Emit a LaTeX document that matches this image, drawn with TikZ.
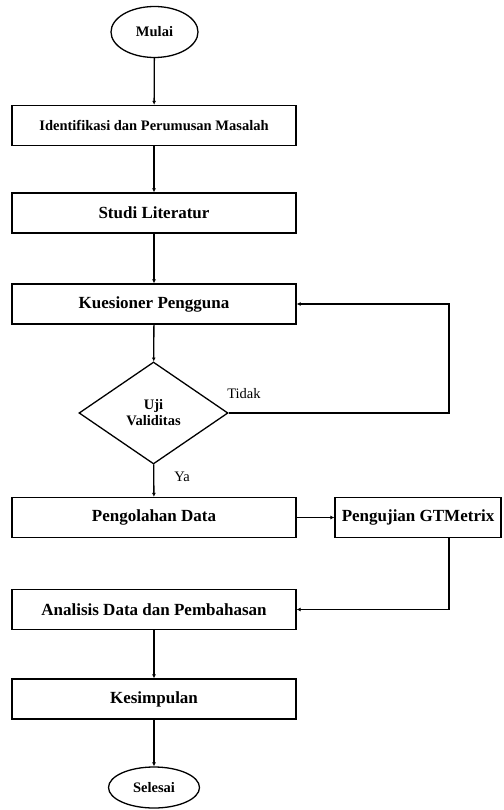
\documentclass[tikz,border=0pt]{standalone}
\usepackage{fontspec}
\setmainfont{Liberation Serif}
\usetikzlibrary{shapes.geometric,arrows.meta}
\begin{document}
\begin{tikzpicture}[x=1pt,y=-1pt,
  every node/.style={inner sep=0pt},
  proc/.style={draw,line width=1.3pt,minimum width=284pt,minimum height=40pt,font=\bfseries\fontsize{17}{19}\selectfont},
  term/.style={draw,ellipse,line width=1.3pt,font=\bfseries\fontsize{14.5}{16}\selectfont},
  dec/.style={draw,diamond,line width=1.3pt,minimum width=149pt,minimum height=102pt,align=center,font=\bfseries\fontsize{14.5}{16}\selectfont},
  lbl/.style={font=\fontsize{14.5}{16}\selectfont},
  conn/.style={line width=1.3pt,-{Latex[length=4pt,width=4pt]}}]
\useasboundingbox (0,0) rectangle (503,810);
\node[term,minimum width=87pt,minimum height=51pt] (mulai) at (154.5,32) {Mulai};
\node[proc,font=\bfseries\fontsize{14.5}{16}\selectfont] (ident) at (154,125.5) {Identifikasi dan Perumusan Masalah};
\node[proc] (studi) at (154,213) {Studi Literatur};
\node[proc] (kues) at (154,304) {Kuesioner Pengguna};
\node[dec] (uji) at (153.5,413) {Uji\\Validitas};
\node[proc] (olah) at (154,517.5) {Pengolahan Data};
\node[proc,minimum width=166pt] (gt) at (418,517.5) {Pengujian GTMetrix};
\node[proc] (anal) at (154,609.5) {Analisis Data dan Pembahasan};
\node[proc] (kes) at (154,699) {Kesimpulan};
\node[term,minimum width=91pt,minimum height=41pt] (sel) at (154,787.5) {Selesai};
\node[lbl] (tidak) at (244,394) {Tidak};
\node[lbl] (ya) at (182,477) {Ya};
\coordinate (r1) at (449,413);
\coordinate (g1) at (449,537);
\coordinate (g2) at (449,609.5);
\draw[conn] (mulai) -- (ident);
\draw[conn] (ident) -- (studi);
\draw[conn] (studi) -- (kues);
\draw[conn] (kues) -- (uji);
\draw[conn] (uji) -- (olah);
\draw[conn] (uji.east) -- (r1) |- (kues.east);
\draw[conn] (olah) -- (gt);
\draw[conn] (g1) -- (g2) -- (anal.east);
\draw[conn] (anal) -- (kes);
\draw[conn] (kes) -- (sel);
\end{tikzpicture}
\end{document}
